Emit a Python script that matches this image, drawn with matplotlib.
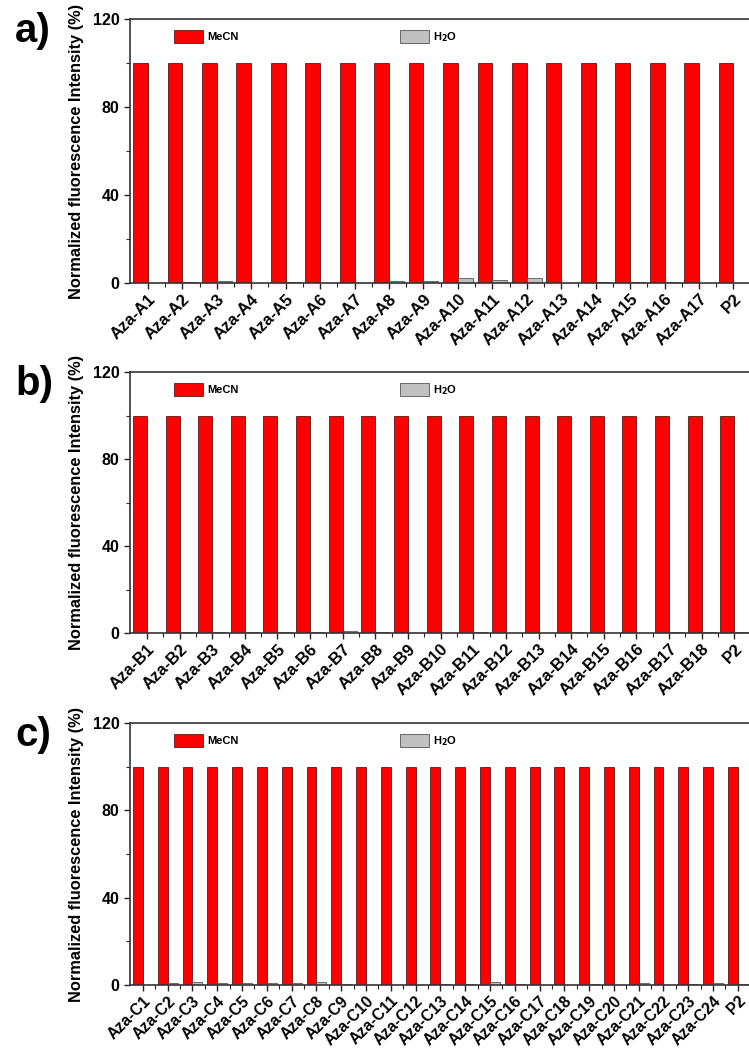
import matplotlib
matplotlib.use("Agg")
import matplotlib.pyplot as plt
import numpy as np
from matplotlib.ticker import FixedLocator

plt.rcParams['font.family'] = ['Liberation Sans', 'DejaVu Sans']
plt.rcParams['font.weight'] = 'bold'

# ---- data ----
labels_a = [f"Aza-A{i}" for i in range(1, 18)] + ["P2"]
mecn_a = [100] * 18
h2o_a = [0.2, 0.3, 0.7, 0.2, 0.5, 0.1, 0.2, 0.7, 1.0, 2.3, 1.2, 2.3, 0.2, 0.3, 0.5, 0.3, 0.2, 0.1]

labels_b = [f"Aza-B{i}" for i in range(1, 19)] + ["P2"]
mecn_b = [100] * 19
h2o_b = [0.2, 0.4, 0.6, 0.4, 0.4, 0.6, 0.8, 0.5, 0.2, 0.1, 0.3, 0.1, 0.1, 0.5, 0.1, 0.2, 0.5, 0.5, 0.3]

labels_c = [f"Aza-C{i}" for i in range(1, 25)] + ["P2"]
mecn_c = [100] * 25
h2o_c = [0.2, 0.8, 1.5, 1.0, 0.8, 0.7, 0.8, 1.2, 0.3, 0.2, 0.2, 0.2, 0.3, 0.5, 1.2, 0.3, 0.2, 0.2, 0.3, 0.2, 0.8, 0.2, 0.5, 0.8, 0.3]

panels = [("a)", labels_a, mecn_a, h2o_a), ("b)", labels_b, mecn_b, h2o_b), ("c)", labels_c, mecn_c, h2o_c)]

W, H = 749, 1052
fig = plt.figure(figsize=(W / 100, H / 100), dpi=100)

# axes boxes in pixels: (top, bottom)
boxes = [(19, 283), (372, 633), (723, 985)]
left_px, right_px = 130, 749
xfs = [12, 12, 11.3]

for (letter, labels, mecn, h2o), (top, bot), fs in zip(panels, boxes, xfs):
    ax = fig.add_axes([left_px / W, 1 - bot / H, (right_px - left_px) / W, (bot - top) / H])
    n = len(labels)
    x = np.arange(n)
    w = 0.43 if n < 20 else 0.40
    ax.bar(x - w / 2, mecn, width=w, color='#ff0000', edgecolor='#5a1a1a', linewidth=0.6, label='MeCN', zorder=2)
    ax.bar(x + w / 2, h2o, width=w, color='#c0c0c0', edgecolor='#555555', linewidth=0.6, label='H$_2$O', zorder=2)
    ax.set_xlim(-0.52, n - 1 + 0.45)
    ax.set_ylim(0, 120)
    ax.yaxis.set_major_locator(FixedLocator([0, 40, 80, 120]))
    ax.yaxis.set_minor_locator(FixedLocator([20, 60, 100]))
    ax.set_xticks(x)
    ax.xaxis.set_minor_locator(FixedLocator(x[:-1] + 0.5))
    ax.set_xticklabels(labels, rotation=45, ha='right', rotation_mode='anchor', fontsize=fs, fontweight='bold')
    for t in ax.get_yticklabels():
        t.set_fontsize(11.5)
        t.set_fontweight('bold')
    ax.tick_params(axis='both', which='major', direction='out', length=4, width=1.0, colors='#222222', labelcolor='black')
    ax.tick_params(axis='both', which='minor', direction='out', length=3, width=0.8, colors='#222222')
    ax.tick_params(axis='x', pad=2)
    for s in ['left', 'bottom', 'top']:
        ax.spines[s].set_linewidth(1.2)
        ax.spines[s].set_color('#333333')
    ax.spines['right'].set_visible(False)
    ax.set_ylabel('Normalized fluorescence Intensity (%)', fontsize=11.8, fontweight='bold', labelpad=6)
    ax.legend(ncol=2, loc='upper left', bbox_to_anchor=(0.055, 0.995), frameon=False,
              handlelength=2.6, handleheight=1.35, columnspacing=14.5, handletextpad=0.4,
              prop={'weight': 'bold', 'size': 8})
    fig.text(15 / W, 1 - (top - 7) / H, letter, fontsize=29, fontweight='bold', ha='left', va='top')

fig.savefig('out.png', dpi=100, facecolor='white')
